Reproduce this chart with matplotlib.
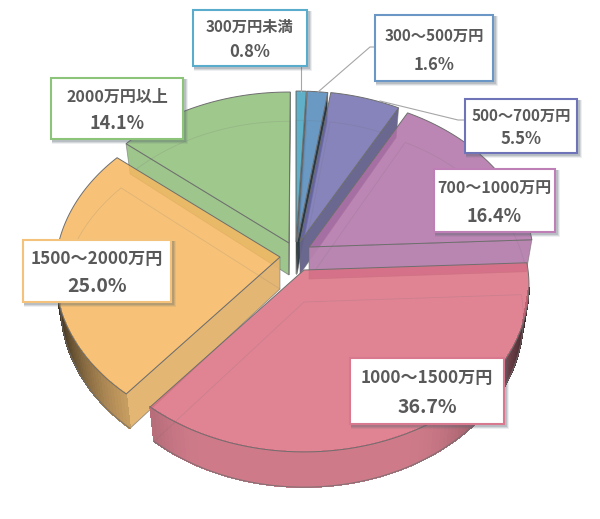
#!/usr/bin/env python3
# 3D-looking exploded pie, drawn by hand with polygons in pixel coordinates
import numpy as np
import matplotlib
matplotlib.use('Agg')
import matplotlib.pyplot as plt
from matplotlib.colors import to_rgb
from matplotlib.patches import Polygon, Rectangle
from matplotlib.path import Path

plt.rcParams['font.family'] = ['Noto Sans CJK JP', 'DejaVu Sans']

# data
categories = ['300万円未満', '300～500万円', '500～700万円', '700～1000万円',
              '1000～1500万円', '1500～2000万円', '2000万円以上']
shares = [0.8, 1.6, 5.5, 16.4, 36.7, 25.0, 14.1]
top_colors = ['#5fb1c9', '#6a99c4', '#8684bc', '#bd86b4', '#e08595', '#f7c378', '#9fc98c']
box_colors = ['#5aaccd', '#6a97c6', '#6f74b8', '#bd7fb5', '#d9798f', '#f5c27c', '#8cc47a']

# layout, pixels
apex = [(296, 242), (297, 242), (300, 242), (309, 247), (304, 270), (280, 257), (289, 243)]
draw_order = [0, 1, 2, 6, 3, 5, 4]
boxes = [(193, 10, 307, 66), (375, 15, 493, 81), (465, 99, 577, 153), (434, 169, 555, 232),
         (350, 358, 504, 424), (23, 240, 171, 302), (51, 78, 183, 139)]
label_size = [11.0, 11.0, 11.0, 11.5, 12.3, 12.3, 11.5]
value_size = [12.0, 12.0, 12.0, 13.0, 14.0, 14.0, 13.0]
leaders = [[(301, 66), (301, 92)],
           [(375, 47), (370, 47), (318, 92)],
           [(465, 120), (458, 120), (380, 101)]]

RX, RY = 224, 165
PERSP = 0.093
DEPTH = 32
BOTTOM_SCALE = 0.975
TOP_ALPHA = 0.85


def project(cx, cy, t, low=False):
    u, v = np.sin(t), np.cos(t)
    s = 1 / (1 + PERSP * v)
    dx, dy = RX * u * s, -RY * v * s
    if low:
        return cx + dx * BOTTOM_SCALE, cy + dy + DEPTH * s
    return cx + dx, cy + dy


def shade(color, f):
    return tuple(np.array(to_rgb(color)) * f)


def under_white(color):
    # colour that looks like `color` once drawn with TOP_ALPHA on white
    rgb = (np.array(to_rgb(color)) - (1 - TOP_ALPHA)) / TOP_ALPHA
    return tuple(np.clip(rgb, 0, 1))


def outer_factor(u):
    a = abs(u)
    if a < 0.4:
        return 0.92
    return max(0.22, 0.92 - 0.7 * ((a - 0.4) / 0.6) ** 2)


def wall_is_visible(cx, cy, end, mid):
    # the cut face shows when the slice lies above its edge on screen
    ex, ey = end[0] - cx, end[1] - cy
    mx, my = mid[0] - cx, mid[1] - cy
    if abs(ex) < 1e-6:
        return abs(ey) > 0
    return my < ey / ex * mx


fig = plt.figure(figsize=(6, 5.19), dpi=100)
ax = fig.add_axes([0, 0, 1, 1])
ax.set_xlim(0, 600)
ax.set_ylim(519, 0)
ax.axis('off')

edge_col = '#6e6e6e'
cum = np.concatenate([[0], np.cumsum(shares)]) / 100 * 2 * np.pi

for i in draw_order:
    cx, cy = apex[i]
    col = top_colors[i]
    ts = np.linspace(cum[i], cum[i + 1], max(3, int(shares[i] * 3)))
    top_arc = [project(cx, cy, t) for t in ts]
    low_arc = [project(cx, cy, t, True) for t in ts]
    low_apex = (cx, cy + DEPTH)
    outline = [(cx, cy)] + top_arc
    top_path = Path(outline + [outline[0]])
    mid = top_arc[len(top_arc) // 2]

    # cut faces that can be seen
    for k in (0, -1):
        if not wall_is_visible(cx, cy, top_arc[k], mid):
            continue
        ex, ey = top_arc[k]
        ratio = abs(ex - cx) / np.hypot(ex - cx, ey - cy)
        f = min(0.97, 0.1 + 1.1 * ratio)
        quad = [(cx, cy), top_arc[k], low_arc[k], low_apex]
        ax.add_patch(Polygon(quad, closed=True, fc=shade(col, f), ec='none', alpha=0.97))
        ax.add_patch(Polygon(quad, closed=True, fill=False, ec=edge_col, lw=0.6, alpha=0.6))

    # outer wall, front part only
    front = []
    for a in range(len(ts) - 1):
        b = a + 1
        tm = (ts[a] + ts[b]) / 2
        if np.cos(tm) > 0.045:
            continue
        if top_path.contains_point(low_arc[a]) and top_path.contains_point(low_arc[b]):
            continue
        c = shade(col, outer_factor(np.sin(tm)))
        # no antialiasing, it leaves stripes between the quads
        ax.add_patch(Polygon([top_arc[a], top_arc[b], low_arc[b], low_arc[a]], closed=True,
                             fc=c, ec=c, lw=0.5, antialiased=False))
        front.append(low_arc[a])
        front.append(low_arc[b])
    if front:
        ax.plot([p[0] for p in front], [p[1] for p in front], color=edge_col, lw=0.8, alpha=0.7)

    # top face
    ax.add_patch(Polygon(outline, closed=True, fc=under_white(col), ec='none', alpha=TOP_ALPHA))
    ax.add_patch(Polygon(outline, closed=True, fill=False, ec=edge_col, lw=0.7))

    # floor of the slice, faint through the top
    ax.add_patch(Polygon([low_apex] + low_arc, closed=True, fill=False, ec=edge_col,
                         lw=0.6, alpha=0.18))

for line in leaders:
    xs, ys = zip(*line)
    ax.plot(xs, ys, color='#a6a6a6', lw=0.8, zorder=20)

for i, (x0, y0, x1, y1) in enumerate(boxes):
    for off, al in ((5, 0.10), (4, 0.16), (3, 0.22)):
        ax.add_patch(Rectangle((x0 + 1, y0 + 1), x1 - x0 + off - 1, y1 - y0 + off - 1,
                               fc='#55666e', ec='none', alpha=al, zorder=25))
    ax.add_patch(Rectangle((x0, y0), x1 - x0, y1 - y0, fc='white', ec=box_colors[i],
                           lw=1.5, zorder=26))
    mx = (x0 + x1) / 2
    h = y1 - y0
    ax.text(mx, y0 + h * 0.31, categories[i], ha='center', va='center', fontsize=label_size[i],
            fontweight='bold', color='#595959', zorder=27)
    ax.text(mx, y0 + h * 0.75, '%.1f%%' % shares[i], ha='center', va='center',
            fontsize=value_size[i], fontweight='bold', color='#595959', zorder=27)

fig.savefig('out.png', dpi=100)
